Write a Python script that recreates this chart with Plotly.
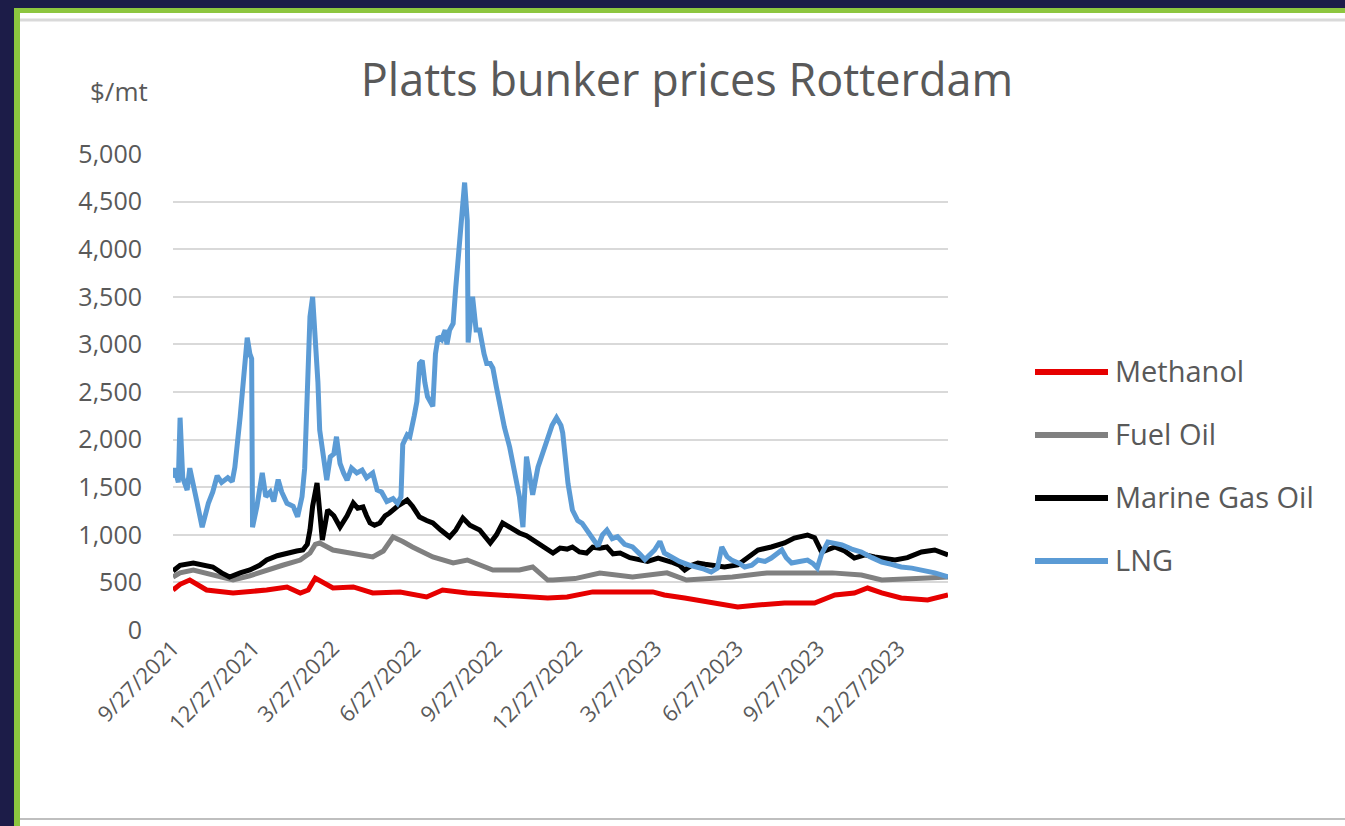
import plotly.graph_objects as go

# ---------------- data ----------------
lng_dates = ["2021-09-27","2021-09-29","2021-10-03","2021-10-05","2021-10-08","2021-10-13","2021-10-16","2021-10-20",
    "2021-10-24","2021-10-30","2021-11-06","2021-11-11","2021-11-16","2021-11-21","2021-11-28","2021-12-03","2021-12-06",
    "2021-12-12","2021-12-16","2021-12-20","2021-12-23","2021-12-25","2021-12-26","2021-12-31","2022-01-06","2022-01-10",
    "2022-01-15","2022-01-19","2022-01-24","2022-01-28","2022-02-03","2022-02-10","2022-02-15","2022-02-20","2022-02-23",
    "2022-02-27","2022-03-01","2022-03-04","2022-03-08","2022-03-10","2022-03-12","2022-03-17","2022-03-20","2022-03-24",
    "2022-03-28","2022-03-31","2022-04-04","2022-04-08","2022-04-12","2022-04-17","2022-04-23","2022-04-29","2022-05-04",
    "2022-05-11","2022-05-16","2022-05-21","2022-05-27","2022-06-03","2022-06-08","2022-06-12","2022-06-14","2022-06-19",
    "2022-06-22","2022-06-27","2022-06-30","2022-07-03","2022-07-06","2022-07-09","2022-07-12","2022-07-18","2022-07-21",
    "2022-07-24","2022-07-28","2022-08-01","2022-08-03","2022-08-06","2022-08-10","2022-08-13","2022-08-18","2022-08-21",
    "2022-08-23","2022-08-26","2022-08-27","2022-08-30","2022-09-01","2022-09-05","2022-09-09","2022-09-14","2022-09-17",
    "2022-09-21","2022-09-24","2022-09-28","2022-10-02","2022-10-07","2022-10-13","2022-10-19","2022-10-24","2022-10-28",
    "2022-11-01","2022-11-05","2022-11-08","2022-11-14","2022-11-19","2022-11-24","2022-11-30","2022-12-05","2022-12-10",
    "2022-12-12","2022-12-15","2022-12-18","2022-12-23","2022-12-29","2023-01-03","2023-01-08","2023-01-14","2023-01-21",
    "2023-01-26","2023-01-31","2023-02-06","2023-02-12","2023-02-20","2023-03-01","2023-03-09","2023-03-15","2023-03-26",
    "2023-04-01","2023-04-06","2023-04-14","2023-04-23","2023-05-05","2023-05-13","2023-05-21","2023-05-29","2023-06-05",
    "2023-06-10","2023-06-16","2023-06-21","2023-06-30","2023-07-06","2023-07-14","2023-07-21","2023-07-29","2023-08-05",
    "2023-08-12","2023-08-17","2023-08-22","2023-08-28","2023-09-06","2023-09-15","2023-09-21","2023-09-26","2023-10-01",
    "2023-10-08","2023-10-16","2023-10-24","2023-11-04","2023-11-15","2023-11-27","2023-12-08","2023-12-19","2023-12-30",
    "2024-01-11","2024-01-22","2024-02-06","2024-02-21"]
lng_values = [1600,1700,1550,2230,1600,1470,1700,1550,
    1350,1080,1330,1450,1620,1550,1600,1560,1710,
    2240,2600,3070,2900,2850,1080,1300,1650,1400,
    1450,1350,1580,1450,1330,1300,1190,1400,1700,
    2600,3290,3500,3000,2600,2100,1750,1575,1820,
    1850,2030,1750,1650,1575,1700,1650,1680,1600,
    1650,1470,1450,1350,1380,1330,1400,1950,2050,
    2030,2250,2400,2800,2830,2600,2450,2350,2900,
    3080,3050,3150,3000,3150,3220,3600,4200,4500,
    4700,4300,3020,3300,3500,3150,3150,2900,2800,
    2800,2750,2550,2350,2130,1920,1650,1400,1080,
    1820,1600,1420,1710,1850,1960,2150,2230,2150,
    2070,1750,1540,1260,1150,1120,1050,960,880,
    1000,1050,960,980,900,872,800,740,840,
    930,809,760,720,680,662,640,609,650,
    872,770,735,700,662,680,735,720,756,
    800,840,760,704,720,735,700,651,800,
    924,910,893,850,819,760,714,690,662,
    650,630,600,557]

mgo_dates = ["2021-09-27","2021-10-05","2021-10-20","2021-11-02","2021-11-11","2021-11-21","2021-11-30","2021-12-12",
    "2021-12-23","2022-01-03","2022-01-11","2022-01-23","2022-02-03","2022-02-14","2022-02-21","2022-02-26","2022-03-01",
    "2022-03-04","2022-03-09","2022-03-12","2022-03-15","2022-03-18","2022-03-21","2022-03-28","2022-04-04","2022-04-12",
    "2022-04-19","2022-04-24","2022-04-30","2022-05-04","2022-05-08","2022-05-13","2022-05-19","2022-05-25","2022-05-30",
    "2022-06-08","2022-06-19","2022-06-25","2022-07-03","2022-07-11","2022-07-18","2022-07-27","2022-08-06","2022-08-13",
    "2022-08-21","2022-08-29","2022-09-09","2022-09-21","2022-09-28","2022-10-05","2022-10-14","2022-10-24","2022-11-01",
    "2022-11-08","2022-11-16","2022-11-25","2022-12-01","2022-12-09","2022-12-17","2022-12-23","2022-12-31","2023-01-08",
    "2023-01-15","2023-01-23","2023-01-31","2023-02-07","2023-02-15","2023-02-26","2023-03-09","2023-03-18","2023-03-30",
    "2023-04-06","2023-04-14","2023-04-23","2023-04-29","2023-05-07","2023-05-14","2023-05-22","2023-05-30","2023-06-13",
    "2023-06-28","2023-07-09","2023-07-21","2023-08-05","2023-08-20","2023-08-31","2023-09-15","2023-09-23","2023-09-26",
    "2023-10-01","2023-10-16","2023-10-27","2023-11-07","2023-11-19","2023-11-30","2023-12-11","2023-12-23","2024-01-06",
    "2024-01-22","2024-02-06","2024-02-21"]
mgo_values = [620,680,704,680,662,600,557,600,
    630,680,735,780,809,830,840,900,1050,
    1300,1544,1200,945,1100,1260,1200,1082,1200,
    1334,1280,1292,1200,1124,1100,1124,1200,1229,
    1300,1365,1300,1187,1150,1124,1050,977,1050,
    1176,1100,1050,914,1000,1124,1070,1019,990,
    945,900,840,809,860,850,872,820,809,
    870,860,872,800,809,760,735,720,756,
    740,714,680,630,680,704,690,683,662,
    683,756,840,872,914,966,998,970,914,
    819,872,830,756,790,767,750,735,760,
    819,840,788]

fo_dates = ["2021-09-27","2021-10-05","2021-10-20","2021-11-02","2021-11-16","2021-12-04","2021-12-23","2022-01-11",
    "2022-01-29","2022-02-18","2022-03-01","2022-03-07","2022-03-12","2022-03-27","2022-04-19","2022-05-11","2022-05-23",
    "2022-06-03","2022-06-14","2022-06-25","2022-07-18","2022-08-10","2022-08-26","2022-09-09","2022-09-24","2022-10-24",
    "2022-11-08","2022-11-25","2022-12-01","2022-12-26","2023-01-23","2023-03-01","2023-04-09","2023-05-01","2023-06-22",
    "2023-07-31","2023-09-06","2023-10-13","2023-11-15","2023-12-08","2024-01-29","2024-02-21"]
fo_values = [557,600,630,600,557,525,570,630,
    680,735,809,900,914,840,809,767,830,
    977,930,872,767,704,735,680,630,630,
    662,525,525,540,599,557,600,525,557,
    599,600,600,578,525,546,557]

meoh_dates = ["2021-09-27","2021-10-05","2021-10-16","2021-11-04","2021-12-04","2022-01-11","2022-02-03","2022-02-18",
    "2022-02-27","2022-03-07","2022-03-27","2022-04-19","2022-05-11","2022-06-11","2022-07-11","2022-07-29","2022-08-26",
    "2022-10-02","2022-11-25","2022-12-17","2023-01-15","2023-03-24","2023-04-06","2023-04-29","2023-05-30","2023-06-28",
    "2023-07-21","2023-08-20","2023-09-23","2023-10-16","2023-11-07","2023-11-22","2023-12-08","2023-12-30","2024-01-29",
    "2024-02-21"]
meoh_values = [420,480,525,420,389,420,452,389,
    420,546,441,452,389,400,347,420,389,
    368,336,347,400,400,368,336,294,242,
    263,284,284,368,389,441,389,336,315,
    368]

series_names = ["Methanol", "Fuel Oil", "Marine Gas Oil", "LNG"]
series_colors = ["#e60000", "#808080", "#000000", "#5b9bd5"]

tick_dates = ["2021-09-27","2021-12-27","2022-03-27","2022-06-27","2022-09-27",
              "2022-12-27","2023-03-27","2023-06-27","2023-09-27","2023-12-27"]
tick_labels = ["9/27/2021","12/27/2021","3/27/2022","6/27/2022","9/27/2022",
               "12/27/2022","3/27/2023","6/27/2023","9/27/2023","12/27/2023"]

# ---------------- layout helpers (pixel -> paper) ----------------
W, H = 1345, 826
ML, MR, MT, MB = 173, 397, 154, 196
PW, PH = W - ML - MR, H - MT - MB
def fx(px): return (px - ML) / PW
def fy(py): return (H - MB - py) / PH

TXT = "#595959"
FONT = "Open Sans"

fig = go.Figure()
all_series = [(meoh_dates, meoh_values), (fo_dates, fo_values), (mgo_dates, mgo_values), (lng_dates, lng_values)]
for (d, v), name, col in zip(all_series, series_names, series_colors):
    fig.add_trace(go.Scatter(x=d, y=v, mode="lines", name=name,
                             line=dict(color=col, width=5), showlegend=False))

shapes = [
    dict(type="rect", xref="paper", yref="paper", x0=fx(14), x1=fx(W + 5), y0=fy(8), y1=fy(H + 5),
         fillcolor="#8dc63f", line=dict(width=0), layer="below"),
    dict(type="rect", xref="paper", yref="paper", x0=fx(20), x1=fx(W + 5), y0=fy(13), y1=fy(H + 5),
         fillcolor="#ffffff", line=dict(width=0), layer="below"),
    dict(type="line", xref="paper", yref="paper", x0=fx(20), x1=fx(W + 5), y0=fy(20), y1=fy(20),
         line=dict(color="#d9d9d9", width=3), layer="below"),
    dict(type="line", xref="paper", yref="paper", x0=fx(20), x1=fx(W + 5), y0=fy(819), y1=fy(819),
         line=dict(color="#bfbfbf", width=2), layer="below"),
]
annotations = [
    dict(text="$/mt", xref="paper", yref="paper", x=fx(88), y=fy(91), xanchor="left", yanchor="middle",
         showarrow=False, font=dict(family=FONT, size=26, color=TXT)),
]
leg_y = [372, 435, 498, 561]
for name, col, yy in zip(series_names, series_colors, leg_y):
    shapes.append(dict(type="line", xref="paper", yref="paper", x0=fx(1035), x1=fx(1108), y0=fy(yy), y1=fy(yy),
                       line=dict(color=col, width=6)))
    annotations.append(dict(text=name, xref="paper", yref="paper", x=fx(1113), y=fy(yy - 2), xanchor="left",
                            yanchor="middle", showarrow=False, font=dict(family=FONT, size=29, color=TXT)))

fig.update_layout(
    width=W, height=H,
    margin=dict(l=ML, r=MR, t=MT, b=MB, pad=0),
    paper_bgcolor="#1c1c48",
    plot_bgcolor="rgba(0,0,0,0)",
    title=dict(text="Platts bunker prices Rotterdam", xref="container", yref="container",
               x=687 / W, xanchor="center", y=1 - 80 / H, yanchor="middle",
               font=dict(family=FONT, size=45, color=TXT)),
    shapes=shapes, annotations=annotations,
    showlegend=False,
    xaxis=dict(type="date", range=["2021-09-27", "2024-02-21"], tickvals=tick_dates, ticktext=tick_labels,
               tickangle=-45, showgrid=False, zeroline=False, showline=False, ticks="",
               tickfont=dict(family=FONT, size=22, color=TXT), ticklabelstandoff=0),
    yaxis=dict(range=[0, 5000], dtick=500, tickformat=",d", showgrid=True, gridcolor="#d9d9d9", gridwidth=2,
               zeroline=False, showline=False, ticks="",
               tickfont=dict(family=FONT, size=25, color=TXT), ticklabelstandoff=30),
)

fig.write_html("out.html")
